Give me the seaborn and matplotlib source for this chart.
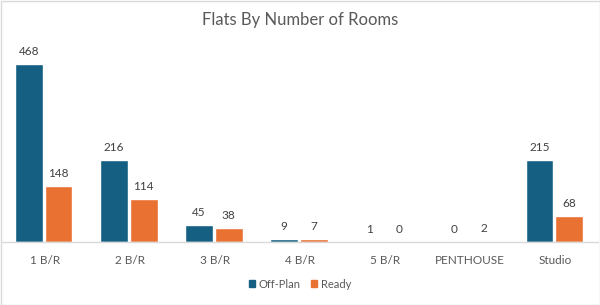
import matplotlib
matplotlib.use("Agg")
import matplotlib.pyplot as plt
import seaborn as sns
import pandas as pd
from matplotlib.patches import Rectangle

categories = ["1 B/R", "2 B/R", "3 B/R", "4 B/R", "5 B/R", "PENTHOUSE", "Studio"]
off_plan = [468, 216, 45, 9, 1, 0, 215]
ready = [148, 114, 38, 7, 0, 2, 68]
series = ["Off-Plan", "Ready"]
colors = ["#156082", "#E97132"]

df = pd.DataFrame({
    "cat": categories * 2,
    "val": off_plan + ready,
    "series": [series[0]] * len(categories) + [series[1]] * len(categories),
})

sns.set_theme(style="white")
plt.rcParams['font.family'] = ['Lato', 'DejaVu Sans']

fig = plt.figure(figsize=(6, 3.05), dpi=100)
ax = fig.add_axes([2 / 600, (305 - 242) / 305, 596 / 600, (242 - 40) / 305])

sns.barplot(data=df, x="cat", y="val", hue="series", palette=colors,
            width=0.70, ax=ax, legend=False, saturation=1)

for cont in ax.containers:
    for p in cont.patches:
        w = p.get_width()
        p.set_width(w * 28 / 30)
    ax.bar_label(cont, padding=5, fontsize=8.5, color="#404040")

ax.set_ylim(0, 531)
ax.set_xlim(-0.5, len(categories) - 0.5)
ax.set_xlabel("")
ax.set_ylabel("")
ax.set_yticks([])
ax.tick_params(axis="x", length=0, labelsize=8.5, labelcolor="#595959", pad=9)
for s in ["top", "right", "left"]:
    ax.spines[s].set_visible(False)
ax.spines["bottom"].set_color("#D9D9D9")
ax.spines["bottom"].set_linewidth(1)

fig.text(0.5, 1 - 20 / 305, "Flats By Number of Rooms", ha="center", va="center",
         fontsize=12, color="#595959")

handles = [Rectangle((0, 0), 1, 1, color=c) for c in colors]
fig.legend(handles, series, loc="center", bbox_to_anchor=(0.5, 1 - 284 / 305),
           ncol=2, frameon=False, fontsize=8, labelcolor="#595959",
           handlelength=0.6, handleheight=0.6, handletextpad=0.3, columnspacing=0.9)

fig.patches.append(Rectangle((0.5 / 600, 0.5 / 305), 599 / 600, 304 / 305,
                             transform=fig.transFigure, fill=False,
                             edgecolor="#D9D9D9", linewidth=1))

fig.savefig("out.png", dpi=100)
